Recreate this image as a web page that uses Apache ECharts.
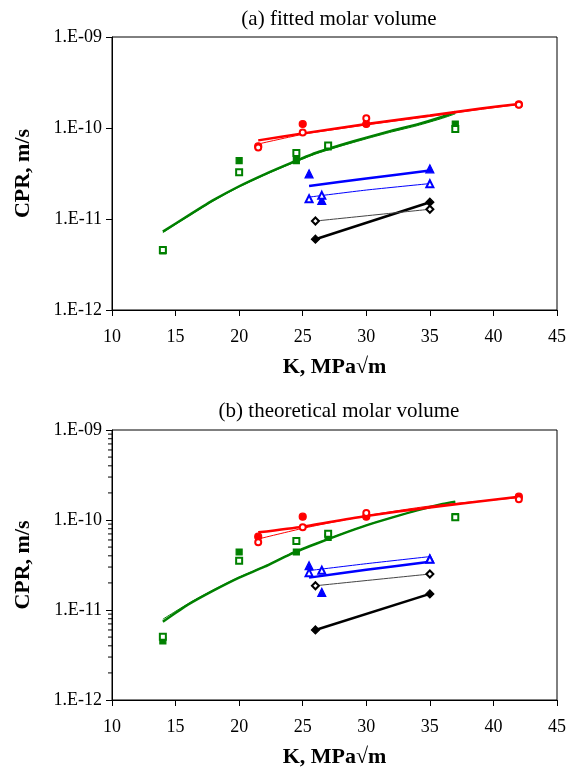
<!DOCTYPE html>
<html>
<head>
<meta charset="utf-8">
<script src="https://cdn.jsdelivr.net/npm/echarts@6/dist/echarts.min.js"></script>
<style>
html,body{margin:0;padding:0;background:#fff;}
#chart{width:571px;height:771px;}
</style>
</head>
<body>
<div id="chart"></div>
<script>
// ---------- tick labels ----------
const xTicks = [10, 15, 20, 25, 30, 35, 40, 45];
const yTickLabels = {"-9": "1.E-09", "-10": "1.E-10", "-11": "1.E-11", "-12": "1.E-12"};
const titles = ["(a) fitted molar volume", "(b) theoretical molar volume"];

// ---------- (a) fitted molar volume ----------
const a_K_red = [21.5, 25, 30, 42];
const a_redFilled = [6.3e-11, 1.107e-10, 1.107e-10, 1.815e-10];
const a_redOpen = [6.1e-11, 8.95e-11, 1.276e-10, 1.8e-10];
const a_K_redFit = [21.5, 25, 30, 35, 39, 42];
const a_redFitThick = [7.31e-11, 8.73e-11, 1.106e-10, 1.37e-10, 1.64e-10, 1.84e-10];
const a_redFitThin = [6.67e-11, 8.51e-11, 1.08e-10, 1.34e-10, 1.6e-10, 1.815e-10];

const a_K_green = [14, 20, 24.5, 27, 37];
const a_greenFilled = [4.45e-12, 4.38e-11, 4.38e-11, 6.2e-11, 1.107e-10];
const a_greenOpen = [4.57e-12, 3.27e-11, 5.32e-11, 6.41e-11, 9.75e-11];
const a_K_greenFit = [14, 16, 18, 20, 22, 24, 26, 28, 30, 32, 34, 36, 37];
const a_greenFitThick = [7.26e-12, 1.089e-11, 1.62e-11, 2.29e-11, 3.10e-11, 4.09e-11, 5.31e-11, 6.50e-11, 7.83e-11, 9.35e-11, 1.096e-10, 1.33e-10, 1.5e-10];
const a_greenFitThin = [7.1e-12, 1.07e-11, 1.59e-11, 2.25e-11, 3.04e-11, 4.0e-11, 5.18e-11, 6.33e-11, 7.6e-11, 9.05e-11, 1.06e-10, 1.28e-10, 1.43e-10];

const a_K_blue = [25.5, 26.5, 35];
const a_blueFilled = [3.14e-11, 1.6e-11, 3.56e-11];
const a_blueOpen = [1.67e-11, 1.82e-11, 2.44e-11];
const a_K_blueFit = [25.5, 30, 35];
const a_blueFitThick = [2.30e-11, 2.79e-11, 3.41e-11];
const a_blueFitThin = [1.74e-11, 2.08e-11, 2.45e-11];

const a_K_black = [26, 35];
const a_blackFilled = [6.0e-12, 1.53e-11];
const a_blackOpen = [9.5e-12, 1.28e-11];

// ---------- (b) theoretical molar volume ----------
const b_K_red = [21.5, 25, 30, 42];
const b_redFilled = [6.52e-11, 1.09e-10, 1.09e-10, 1.815e-10];
const b_redOpen = [5.65e-11, 8.3e-11, 1.196e-10, 1.70e-10];
const b_K_redFit = [21.5, 25, 30, 35, 42];
const b_redFitThick = [7.29e-11, 8.43e-11, 1.107e-10, 1.38e-10, 1.815e-10];
const b_redFitThin = [6.15e-11, 8.07e-11, 1.116e-10, 1.43e-10, 1.77e-10];

const b_K_green = [14, 20, 24.5, 27, 37];
const b_greenFilled = [4.53e-12, 4.41e-11, 4.41e-11, 6.41e-11, 1.09e-10];
const b_greenOpen = [5.06e-12, 3.53e-11, 5.85e-11, 7.05e-11, 1.07e-10];
const b_K_greenFit = [14, 16, 18, 20, 22, 24, 26, 28, 30, 32, 34, 36, 37];
const b_greenFitThick = [7.4e-12, 1.15e-11, 1.65e-11, 2.29e-11, 3.03e-11, 4.16e-11, 5.41e-11, 6.93e-11, 8.72e-11, 1.062e-10, 1.28e-10, 1.507e-10, 1.6e-10];
const b_greenFitThin = [7.9e-12, 1.18e-11, 1.68e-11, 2.32e-11, 3.06e-11, 4.2e-11, 5.45e-11, 6.97e-11, 8.76e-11, 1.065e-10, 1.28e-10, 1.5e-10, 1.58e-10];

const b_K_blue = [25.5, 26.5, 35];
const b_blueFilled = [3.11e-11, 1.57e-11, 3.72e-11];
const b_blueOpen = [2.6e-11, 2.76e-11, 3.66e-11];
const b_K_blueFit = [25.5, 30, 35];
const b_blueFitThick = [2.29e-11, 2.8e-11, 3.44e-11];
const b_blueFitThin = [2.74e-11, 3.27e-11, 3.92e-11];

const b_K_black = [26, 35];
const b_blackFilled = [6.0e-12, 1.51e-11];
const b_blackOpen = [1.86e-11, 2.51e-11];

// ---------- build ----------
const FONT = "Liberation Serif";
const zip = (xs, ys) => xs.map((x, i) => [x, ys[i]]);

function xAxis(idx) {
  return {
    type: 'value', gridIndex: idx, min: 10, max: 45, interval: 5,
    name: 'K, MPa√m', nameLocation: 'middle', nameGap: 46,
    nameTextStyle: {fontFamily: FONT, fontSize: 22, fontWeight: 'bold', color: '#000'},
    axisLine: {show: true, onZero: false, lineStyle: {color: '#000', width: 1}},
    axisTick: {show: true, inside: false, length: 6, lineStyle: {color: '#000'}},
    axisLabel: {fontFamily: FONT, fontSize: 18, color: '#000', margin: 18},
    splitLine: {show: false}
  };
}
function yAxis(idx) {
  return {
    type: 'log', logBase: 10, gridIndex: idx, min: 1e-12, max: 1e-9,
    name: 'CPR, m/s', nameLocation: 'middle', nameGap: 78, nameRotate: 90,
    nameTextStyle: {fontFamily: FONT, fontSize: 22, fontWeight: 'bold', color: '#000'},
    axisLine: {show: true, lineStyle: {color: '#000', width: 1}},
    axisTick: {show: true, inside: false, length: 6, lineStyle: {color: '#000'}},
    axisLabel: {
      fontFamily: FONT, fontSize: 18, color: '#000', margin: 10,
      formatter: v => yTickLabels[String(Math.round(Math.log10(v)))] || ''
    },
    splitLine: {show: false}
  };
}

function scatter(idx, xs, ys, symbol, color, size) {
  return {
    type: 'scatter', xAxisIndex: idx, yAxisIndex: idx, data: zip(xs, ys),
    symbol: symbol, symbolSize: size, z: 5,
    itemStyle: {color: color, borderColor: color, borderWidth: 1.2, opacity: 1}
  };
}
function fit(idx, xs, ys, color, width) {
  return {
    type: 'line', xAxisIndex: idx, yAxisIndex: idx, data: zip(xs, ys),
    smooth: 0.2, showSymbol: false, symbol: 'none', z: 3,
    lineStyle: {color: color, width: width}, silent: true
  };
}

const RED = '#ff0000', GREEN = '#008000', BLUE = '#0000ff', BLACK = '#000000';

const series = [
  // (a)
  fit(0, a_K_greenFit, a_greenFitThick, GREEN, 2.5),
  fit(0, a_K_greenFit, a_greenFitThin, GREEN, 1),
  fit(0, a_K_redFit, a_redFitThick, RED, 2.5),
  fit(0, a_K_redFit, a_redFitThin, RED, 1),
  fit(0, a_K_blueFit, a_blueFitThick, BLUE, 2.5),
  fit(0, a_K_blueFit, a_blueFitThin, BLUE, 1),
  fit(0, a_K_black, a_blackFilled, BLACK, 2.5),
  fit(0, a_K_black, a_blackOpen, '#444', 1),
  scatter(0, a_K_green, a_greenFilled, 'rect', GREEN, 6),
  scatter(0, a_K_green, a_greenOpen, 'emptyRect', GREEN, 6),
  scatter(0, a_K_red, a_redFilled, 'circle', RED, 7),
  scatter(0, a_K_red, a_redOpen, 'emptyCircle', RED, 6),
  scatter(0, a_K_blue, a_blueFilled, 'triangle', BLUE, 8),
  scatter(0, a_K_blue, a_blueOpen, 'emptyTriangle', BLUE, 7),
  scatter(0, a_K_black, a_blackFilled, 'diamond', BLACK, 8),
  scatter(0, a_K_black, a_blackOpen, 'emptyDiamond', BLACK, 7),
  // (b)
  fit(1, b_K_greenFit, b_greenFitThick, GREEN, 2.5),
  fit(1, b_K_greenFit, b_greenFitThin, GREEN, 1),
  fit(1, b_K_redFit, b_redFitThick, RED, 2.5),
  fit(1, b_K_redFit, b_redFitThin, RED, 1),
  fit(1, b_K_blueFit, b_blueFitThick, BLUE, 2.5),
  fit(1, b_K_blueFit, b_blueFitThin, BLUE, 1),
  fit(1, b_K_black, b_blackFilled, BLACK, 2.5),
  fit(1, b_K_black, b_blackOpen, '#444', 1),
  scatter(1, b_K_green, b_greenFilled, 'rect', GREEN, 6),
  scatter(1, b_K_green, b_greenOpen, 'emptyRect', GREEN, 6),
  scatter(1, b_K_red, b_redFilled, 'circle', RED, 7),
  scatter(1, b_K_red, b_redOpen, 'emptyCircle', RED, 6),
  scatter(1, b_K_blue, b_blueFilled, 'triangle', BLUE, 8),
  scatter(1, b_K_blue, b_blueOpen, 'emptyTriangle', BLUE, 7),
  scatter(1, b_K_black, b_blackFilled, 'diamond', BLACK, 8),
  scatter(1, b_K_black, b_blackOpen, 'emptyDiamond', BLACK, 7)
];

const chart = echarts.init(document.getElementById('chart'), null, {renderer: 'canvas'});
const option = {
  backgroundColor: '#fff',
  animation: false,
  textStyle: {fontFamily: FONT},
  title: [
    {text: titles[0], left: 334, top: 4, textAlign: 'center',
     textStyle: {fontFamily: FONT, fontSize: 21, fontWeight: 'normal', color: '#000'}},
    {text: titles[1], left: 334, top: 396, textAlign: 'center',
     textStyle: {fontFamily: FONT, fontSize: 21, fontWeight: 'normal', color: '#000'}}
  ],
  grid: [
    {left: 112, right: 14, top: 37, height: 273, show: true, borderColor: '#000', borderWidth: 1,
     backgroundColor: '#fff', containLabel: false, outerBoundsMode: 'none'},
    {left: 112, right: 14, top: 430, height: 270, show: true, borderColor: '#000', borderWidth: 1,
     backgroundColor: '#fff', containLabel: false, outerBoundsMode: 'none'}
  ],
  xAxis: [xAxis(0), xAxis(1)],
  yAxis: [yAxis(0), yAxis(1)],
  series: series
};
chart.setOption(option);

// minor ticks on the log axis of panel (b)
const minor = [];
const x0 = chart.convertToPixel({xAxisIndex: 1}, 10);
for (let e = -12; e < -9; e++) {
  for (let m = 2; m <= 9; m++) {
    const y = chart.convertToPixel({yAxisIndex: 1}, m * Math.pow(10, e));
    minor.push({type: 'line', shape: {x1: x0 - 4, y1: y, x2: x0, y2: y},
                style: {stroke: '#000', lineWidth: 1}, silent: true});
  }
}
chart.setOption({graphic: minor});
</script>
</body>
</html>
